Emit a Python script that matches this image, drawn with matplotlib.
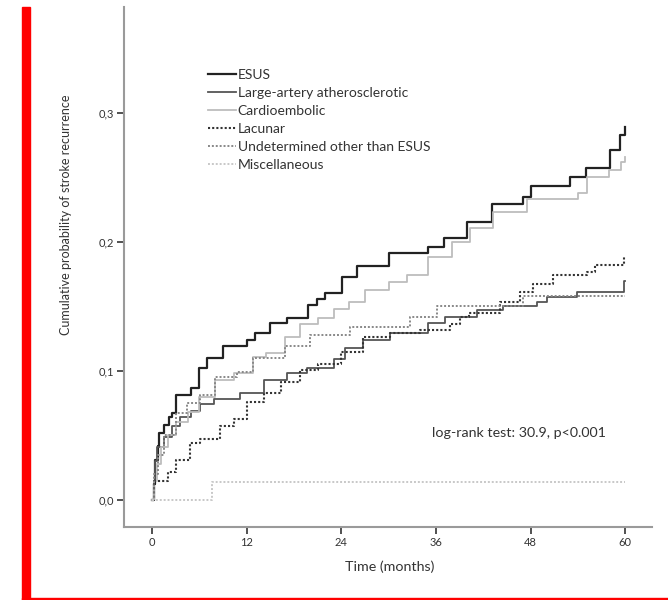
import matplotlib
matplotlib.use("Agg")
import matplotlib.pyplot as plt
from matplotlib.patches import Rectangle

plt.rcParams['font.family'] = ['Lato', 'DejaVu Sans']

# ---- data (months, cumulative probability) ----
esus_t = [0, 0.2, 0.4, 0.7, 0.9, 1.5, 2.1, 2.5, 3.0, 5.0, 6.0, 7.0, 9.0, 12.0, 13.1, 15.0, 17.1,
          19.8, 20.9, 22.0, 24.1, 26.0, 30.0, 35.0, 37.0, 40.0, 43.1, 47.0, 48.1, 53.0, 55.0, 58.1, 59.3, 60]
esus_y = [0, 0.012, 0.031, 0.042, 0.052, 0.058, 0.064, 0.067, 0.081, 0.087, 0.102, 0.110, 0.119, 0.124,
          0.129, 0.137, 0.141, 0.151, 0.156, 0.160, 0.173, 0.181, 0.191, 0.196, 0.203, 0.2155, 0.229,
          0.235, 0.243, 0.250, 0.257, 0.271, 0.283, 0.289]

large_t = [0, 0.2, 0.4, 0.6, 1.5, 2.5, 3.6, 4.9, 6.1, 7.8, 11.2, 14.2, 17.1, 19.7, 23.1, 24.5, 26.8,
           30.2, 35.0, 37.2, 41.2, 44.5, 48.8, 50.1, 53.9, 59.8, 60]
large_y = [0, 0.015, 0.030, 0.041, 0.049, 0.057, 0.064, 0.069, 0.074, 0.078, 0.083, 0.093, 0.098,
           0.102, 0.109, 0.118, 0.124, 0.129, 0.137, 0.142, 0.147, 0.150, 0.153, 0.157, 0.161, 0.170, 0.170]

cardio_t = [0, 0.3, 0.6, 1.2, 2.0, 3.1, 4.6, 6.0, 8.0, 10.4, 12.8, 14.5, 16.9, 18.8, 21.0, 23.1, 25.0,
            27.0, 30.0, 32.3, 35.0, 38.0, 40.3, 43.3, 47.5, 54.0, 55.2, 58.0, 59.5, 60]
cardio_y = [0, 0.015, 0.028, 0.041, 0.050, 0.060, 0.068, 0.080, 0.093, 0.098, 0.111, 0.114, 0.126,
            0.136, 0.141, 0.148, 0.153, 0.163, 0.169, 0.174, 0.188, 0.200, 0.211, 0.223, 0.233, 0.238,
            0.250, 0.256, 0.262, 0.266]

lacunar_t = [0, 0.3, 2.0, 3.1, 4.8, 6.1, 8.6, 10.4, 12.1, 14.2, 16.3, 18.8, 21.0, 24.0, 26.8, 30.2,
             34.0, 37.8, 39.0, 40.2, 44.1, 46.7, 48.3, 50.9, 55.2, 56.2, 59.8, 60]
lacunar_y = [0, 0.015, 0.022, 0.031, 0.044, 0.047, 0.057, 0.063, 0.076, 0.083, 0.091, 0.101, 0.105,
             0.115, 0.126, 0.129, 0.132, 0.136, 0.142, 0.145, 0.153, 0.161, 0.167, 0.174, 0.177,
             0.182, 0.188, 0.188]

undet_t = [0, 0.3, 0.8, 1.5, 3.1, 4.4, 6.1, 8.0, 10.8, 12.8, 16.9, 20.0, 25.1, 32.7, 36.2, 47.0, 60]
undet_y = [0, 0.020, 0.035, 0.050, 0.067, 0.075, 0.081, 0.095, 0.099, 0.110, 0.119, 0.128, 0.134,
           0.142, 0.150, 0.158, 0.158]

misc_t = [0, 7.6, 60]
misc_y = [0, 0.0137, 0.0137]

labels = ["ESUS", "Large-artery atherosclerotic", "Cardioembolic", "Lacunar",
          "Undetermined other than ESUS", "Miscellaneous"]
x_ticks = [0, 12, 24, 36, 48, 60]
y_ticks = [0.0, 0.1, 0.2, 0.3]
y_ticklabels = ["0,0", "0,1", "0,2", "0,3"]

fig = plt.figure(figsize=(6.68, 6.0), dpi=100)
ax = fig.add_axes([124/668, 1-527/600, 528/668, 520/600])

series = [
    (esus_t, esus_y, dict(color="#222222", lw=1.6, ls="-")),
    (large_t, large_y, dict(color="#555555", lw=1.3, ls="-")),
    (cardio_t, cardio_y, dict(color="#bdbdbd", lw=1.3, ls="-")),
    (lacunar_t, lacunar_y, dict(color="#333333", lw=1.5, ls=(0, (1, 1)))),
    (undet_t, undet_y, dict(color="#888888", lw=1.4, ls=(0, (1, 1)))),
    (misc_t, misc_y, dict(color="#c8c8c8", lw=1.4, ls=(0, (1, 1)))),
]
for (t, y, st), lab in zip(series, labels):
    ax.step(t, y, where="post", label=lab, **st)

ax.set_xlim(-3.55, 63.4)
ax.set_ylim(-0.021, 0.382)
ax.set_xticks(x_ticks)
ax.set_yticks(y_ticks)
ax.set_yticklabels(y_ticklabels)
for s in ["top", "right"]:
    ax.spines[s].set_visible(False)
for s in ["left", "bottom"]:
    ax.spines[s].set_color("#9a9a9a")
    ax.spines[s].set_linewidth(1.5)
ax.tick_params(axis="both", direction="out", length=5, width=1.2, color="#333333",
               labelsize=8, labelcolor="#333333", pad=2)

ax.set_ylabel("Cumulative probability of stroke recurrence", fontsize=9, color="#333333")
ax.yaxis.set_label_coords(-0.0985, 0.6)
ax.set_xlabel("Time (months)", fontsize=10.3, color="#333333")
ax.xaxis.set_label_coords(0.504, -0.064)

ax.text(35.5, 0.052, "log-rank test: 30.9, p<0.001", fontsize=10.3, color="#333333",
        ha="left", va="center")

leg = ax.legend(loc="upper left", bbox_to_anchor=((208-124)/528, 1-(69-7)/520), frameon=False,
                fontsize=10, handlelength=2.0, handletextpad=0.15, labelspacing=0.43,
                borderpad=0, borderaxespad=0)
for txt in leg.get_texts():
    txt.set_color("#333333")

# red frame marks along the left and bottom edges
fig.patches.append(Rectangle((22/668, 0), 8/668, 593/600, transform=fig.transFigure,
                             color="#ff0000", zorder=10))
fig.patches.append(Rectangle((22/668, 0.5/600), (668-22)/668, 2/600, transform=fig.transFigure,
                             color="#ff0000", zorder=10))

fig.savefig("out.png", dpi=100)
